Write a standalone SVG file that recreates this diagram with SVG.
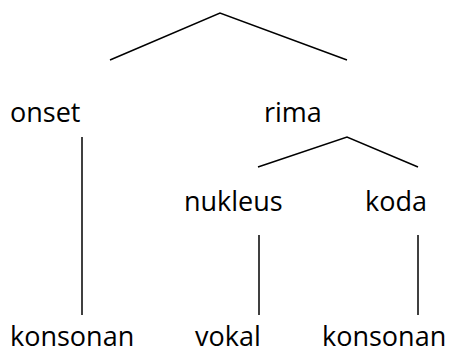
<svg xmlns="http://www.w3.org/2000/svg" width="449" height="350" viewBox="0 0 449 350">
<style>
text{font-family:"Open Sans","Noto Sans","Liberation Sans",sans-serif;font-size:27px;fill:#000}
.c line, .c polyline{stroke:#000;stroke-width:1.5;fill:none}
</style>
<rect width="449" height="350" fill="#fff"/>
<g class="c" id="connectors">
<polyline points="110,60 220,13 347,60"/>
<line x1="82" y1="137" x2="82" y2="315"/>
<polyline points="258,167 347,137 418,167"/>
<line x1="259" y1="235" x2="259" y2="315"/>
<line x1="418" y1="235" x2="418" y2="315"/>
</g>
<g id="onset"><text x="10" y="122">onset</text></g>
<g id="rima"><text x="264" y="122">rima</text></g>
<g id="nukleus"><text x="184" y="211">nukleus</text></g>
<g id="koda"><text x="365" y="211">koda</text></g>
<g id="konsonan1"><text x="10" y="346">konsonan</text></g>
<g id="vokal"><text x="195" y="346">vokal</text></g>
<g id="konsonan2"><text x="322" y="346">konsonan</text></g>
</svg>
